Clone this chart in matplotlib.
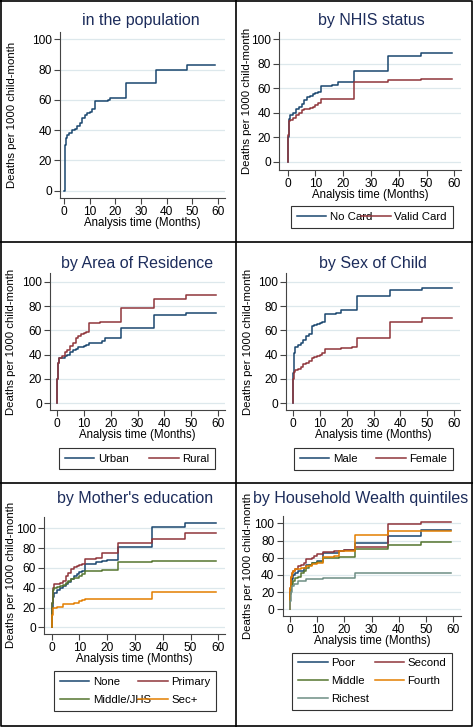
import matplotlib
matplotlib.use("Agg")
import matplotlib.pyplot as plt
from matplotlib.lines import Line2D

plt.rcParams['font.family'] = ['Liberation Sans', 'DejaVu Sans']

W, H = 473, 727

NAVY = '#1a476f'
MAROON = '#90353b'
GREEN = '#55752f'
ORANGE = '#e37e00'
TEAL = '#6e8e84'
TITLE_COL = '#1c2c5b'
GRID_COL = '#dde8ec'

# ---- data (months, deaths per 1000 child-month) ----
pop_t = [0, 0.1, 0.3, 0.6, 1, 2, 3, 4, 5, 6, 7, 8, 9, 10, 11, 12, 17, 18, 24, 36, 48, 59]
pop_v = [0, 20, 30, 35, 37, 38, 40, 41, 43, 45, 48, 50, 51, 52, 54, 59, 60, 61, 71, 80, 83, 83]

nocard_t = [0, 0.1, 0.3, 0.6, 1, 2, 3, 4, 5, 6, 7, 8, 9, 10, 11, 12, 16, 18, 24, 36, 48, 59]
nocard_v = [0, 20, 30, 35, 38, 40, 43, 45, 47, 50, 53, 54, 55, 56, 57, 62, 63, 65, 74, 86, 89, 89]
valid_t = [0, 0.1, 0.3, 0.6, 1, 2, 3, 4, 5, 6, 8, 9, 10, 11, 12, 18, 24, 36, 48, 59]
valid_v = [0, 22, 30, 33, 34, 36, 38, 40, 42, 43, 44, 45, 46, 48, 51, 51.5, 65, 66.5, 67.5, 67.5]

urban_t = [0, 0.1, 0.3, 0.6, 1, 3, 4, 5, 6, 7, 8, 10, 11, 12, 17, 18, 24, 36, 48, 59]
urban_v = [0, 20, 28, 33, 37, 39, 40, 42, 44, 45, 46, 47, 48, 50, 51, 54, 62, 73, 74.5, 74.5]
rural_t = [0, 0.1, 0.3, 0.6, 1, 2, 3, 4, 5, 6, 7, 8, 9, 10, 11, 12, 16, 18, 24, 36, 48, 59]
rural_v = [0, 20, 28, 33, 37, 39, 42, 44, 47, 50, 54, 55, 57, 58, 59, 66, 66.5, 67, 78, 85.5, 89, 89]

male_t = [0, 0.1, 0.3, 0.6, 1, 2, 3, 4, 5, 6, 7, 8, 9, 10, 11, 12, 16, 18, 20, 24, 36, 48, 59]
male_v = [0, 25, 35, 41, 46, 48, 50, 52, 55, 57, 63.5, 64.5, 65.5, 66, 67, 73.5, 74, 76.5, 77, 88.5, 93.5, 95, 95]
female_t = [0, 0.1, 0.3, 0.6, 1, 2, 3, 4, 5, 6, 7, 8, 9, 10, 11, 12, 14, 18, 22, 24, 36, 48, 59]
female_v = [0, 20, 24, 26, 27.5, 28, 30, 32, 33, 35, 37, 38, 39, 40, 41, 44.5, 45, 45.5, 46, 53.5, 67, 70, 70]

none_t = [0, 0.1, 0.3, 0.6, 1, 2, 3, 4, 5, 6, 7, 8, 9, 10, 11, 12, 16, 18, 20, 24, 36, 48, 59]
none_v = [0, 20, 27, 31, 35, 38, 40, 42, 44, 46, 49, 52, 54, 56, 57, 64, 66, 67, 68, 81, 101.5, 105, 105]
prim_t = [0, 0.1, 0.3, 0.6, 1, 3, 4, 5, 6, 7, 8, 9, 10, 11, 12, 16, 18, 24, 36, 48, 59]
prim_v = [0, 25, 35, 40, 44, 45, 47, 52, 55, 59, 61, 62, 63, 64, 68.5, 70, 75, 85.5, 89, 95.5, 95.5]
mid_t = [0, 0.1, 0.3, 0.6, 1, 2, 3, 4, 5, 6, 7, 8, 10, 11, 12, 18, 24, 36, 59]
mid_v = [0, 25, 35, 38, 40, 41, 42, 43, 45, 47, 49, 50, 52, 54, 57, 57.5, 66, 67, 67]
sec_t = [0, 0.1, 0.3, 1, 2, 4, 8, 10, 11, 12, 36, 59]
sec_v = [0, 12, 19, 20, 21, 24, 25, 27, 28, 29, 35.5, 35.5]

poor_t = [0, 0.1, 0.3, 0.6, 1, 2, 3, 5, 6, 8, 10, 12, 18, 20, 24, 36, 48, 59]
poor_v = [0, 20, 30, 35, 40, 42, 45, 48, 52, 54, 56, 66, 68, 69, 77, 85, 92, 92]
second_t = [0, 0.1, 0.3, 0.6, 1, 2, 3, 4, 5, 6, 8, 9, 10, 12, 16, 20, 24, 36, 48, 59]
second_v = [0, 25, 38, 42, 45, 47, 50, 52, 54, 58, 60, 62, 64, 67, 68, 69, 73, 99.5, 101, 101]
middle_t = [0, 0.1, 0.3, 0.6, 1, 2, 3, 4, 5, 6, 7, 8, 10, 12, 18, 20, 24, 36, 48, 59]
middle_v = [0, 18, 27, 30, 33, 36, 38, 42, 45, 48, 52, 54, 55, 60, 60.5, 61, 70.5, 75, 78, 78]
fourth_t = [0, 0.1, 0.3, 0.6, 1, 2, 4, 6, 8, 10, 12, 16, 18, 24, 36, 59]
fourth_v = [0, 25, 38, 42, 45, 47, 48, 50, 53, 54, 61, 61.5, 68, 86, 91, 91]
richest_t = [0, 0.1, 0.2, 0.6, 1.5, 3, 6, 12, 24, 59]
richest_v = [0, 10, 20, 27, 30, 33, 35, 36, 42.5, 42.5]

xlabel = "Analysis time (Months)"
ylabel = "Deaths per 1000 child-month"

fig = plt.figure(figsize=(W / 100, H / 100), dpi=100)


def panel(box, title, title_xy, ylab_x, series, legend_box=None, legend_order=None):
    # box: left, right, top, bottom, x of t=0, x of t=60, y of v=0, y of v=100 (pixels)
    left, right, top, bottom, x0, x60, y0, y100 = box
    ax = fig.add_axes([left / W, 1 - bottom / H, (right - left) / W, (bottom - top) / H])
    sx = (x60 - x0) / 60
    sy = (y0 - y100) / 100
    ax.set_xlim((left - x0) / sx, (right - x0) / sx)
    ax.set_ylim((y0 - bottom) / sy, (y0 - top) / sy)
    lines = []
    for t, v, col, lab in series:
        ln, = ax.plot(t, v, drawstyle='steps-post', color=col, lw=1.1, label=lab)
        lines.append(ln)
    ax.set_xticks(range(0, 61, 10))
    ax.set_yticks(range(0, 101, 20))
    ax.yaxis.grid(True, color=GRID_COL, lw=0.9)
    ax.set_axisbelow(True)
    for s in ['top', 'right']:
        ax.spines[s].set_visible(False)
    for s in ['left', 'bottom']:
        ax.spines[s].set_color('#444444')
        ax.spines[s].set_linewidth(0.8)
    ax.tick_params(direction='out', length=4, width=0.8, color='#444444',
                   labelsize=8.6, pad=2)
    fig.text(title_xy[0] / W, 1 - title_xy[1] / H, title, ha='center', va='center',
             fontsize=11.5, color=TITLE_COL)
    fig.text(ylab_x / W, 1 - (top + bottom) / 2 / H, ylabel, rotation=90,
             ha='center', va='center', fontsize=8.2)
    fig.text((left + right) / 2 / W, 1 - (bottom + 25) / H, xlabel,
             ha='center', va='center', fontsize=8.3)
    if legend_box is not None:
        # matplotlib fills legend columns first; reorder so rows read like the original
        handles = [lines[i] for i in legend_order]
        lx0, lx1, ly0, ly1 = legend_box
        leg = ax.legend(handles=handles, loc='center', ncol=2, mode='expand',
                        bbox_to_anchor=(lx0 / W, 1 - ly1 / H, (lx1 - lx0) / W, (ly1 - ly0) / H),
                        bbox_transform=fig.transFigure, fontsize=8.2, handlelength=2.6,
                        handletextpad=0.3, columnspacing=0.8, labelspacing=0.7,
                        borderpad=0.5, fancybox=False, framealpha=1)
        leg.get_frame().set_edgecolor('#333333')
        leg.get_frame().set_linewidth(0.8)
    return ax


panel((60, 225, 32, 198, 64.3, 217.7, 190.7, 39.3), "in the population", (141, 21), 12,
      [(pop_t, pop_v, NAVY, None)])

panel((279.3, 461, 32.3, 170, 287.7, 454.3, 161.7, 39.3), "by NHIS status", (371, 21), 246.5,
      [(nocard_t, nocard_v, NAVY, "No Card"), (valid_t, valid_v, MAROON, "Valid Card")],
      legend_box=(285.3, 458.3, 205.7, 228.3), legend_order=[0, 1])

panel((50, 224.5, 273.3, 410, 56.7, 218.3, 403.3, 281.7), "by Area of Residence", (137, 263), 11.5,
      [(urban_t, urban_v, NAVY, "Urban"), (rural_t, rural_v, MAROON, "Rural")],
      legend_box=(53.3, 221, 447.3, 470), legend_order=[0, 1])

panel((286, 460, 273.3, 410, 292.7, 454.3, 403.3, 281.7), "by Sex of Child", (372.7, 263), 248,
      [(male_t, male_v, NAVY, "Male"), (female_t, female_v, MAROON, "Female")],
      legend_box=(288.3, 458.7, 447.7, 470), legend_order=[0, 1])

panel((44.3, 225, 516.7, 634, 51.7, 218.3, 627.3, 528.3), "by Mother's education", (135, 499), 11.5,
      [(none_t, none_v, NAVY, "None"), (prim_t, prim_v, MAROON, "Primary"),
       (mid_t, mid_v, GREEN, "Middle/JHS"), (sec_t, sec_v, ORANGE, "Sec+")],
      legend_box=(48.3, 221.7, 670.7, 711), legend_order=[0, 2, 1, 3])

panel((282.7, 461, 515.7, 616, 290, 453.3, 609.3, 523.3), "by Household Wealth quintiles", (361, 499), 247.5,
      [(poor_t, poor_v, NAVY, "Poor"), (second_t, second_v, MAROON, "Second"),
       (middle_t, middle_v, GREEN, "Middle"), (fourth_t, fourth_v, ORANGE, "Fourth"),
       (richest_t, richest_v, TEAL, "Richest")],
      legend_box=(286.7, 457.7, 652.7, 710), legend_order=[0, 2, 4, 1, 3])

# panel borders
def fline(xs, ys):
    fig.add_artist(Line2D([x / W for x in xs], [1 - y / H for y in ys],
                          transform=fig.transFigure, color='black', lw=1.2))

fline([1, 472, 472, 1, 1], [1, 1, 726, 726, 1])
fline([236, 236], [0, H])
fline([0, W], [242, 242])
fline([0, W], [483, 483])

fig.savefig('out.png', dpi=100)
